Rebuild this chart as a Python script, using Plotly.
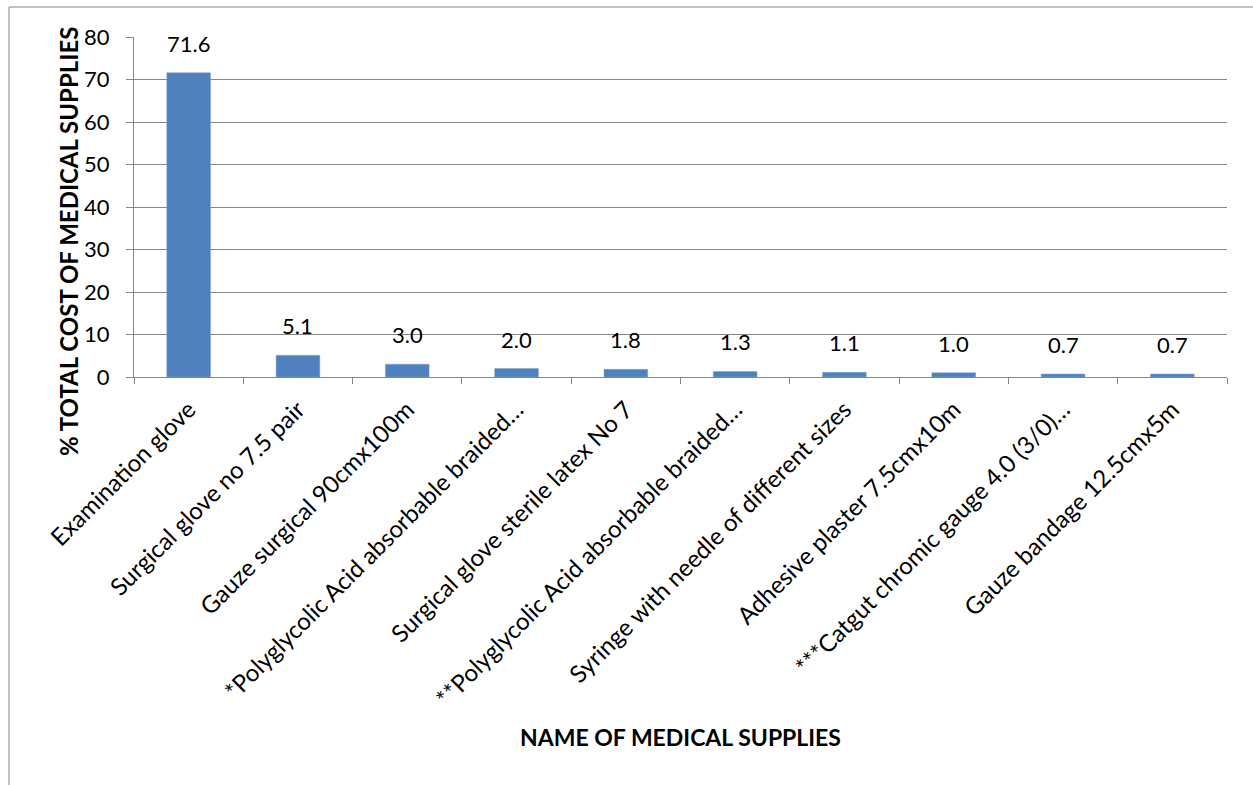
import plotly.graph_objects as go

# Share of total medical-supply cost by item
supplies = [
    "Examination glove",
    "Surgical glove no 7.5 pair",
    "Gauze surgical 90cmx100m",
    "*Polyglycolic Acid absorbable braided…",
    "Surgical glove sterile latex No 7",
    "**Polyglycolic Acid absorbable braided…",
    "Syringe with needle of different sizes",
    "Adhesive plaster 7.5cmx10m",
    "***Catgut chromic gauge 4.0 (3/0)…",
    "Gauze bandage 12.5cmx5m",
]
pct_cost = [71.6, 5.1, 3.0, 2.0, 1.8, 1.3, 1.1, 1.0, 0.7, 0.7]
y_ticks = [0, 10, 20, 30, 40, 50, 60, 70, 80]

W, H = 1253, 785
ML, MR, MT, MB = 134, 26, 37, 408
PW, PH = W - ML - MR, H - MT - MB

FONT = "Lato"
GRID = "#868686"

fig = go.Figure(
    go.Bar(
        x=supplies,
        y=pct_cost,
        width=0.4,
        marker=dict(color="#4F81BD", line=dict(color="#7FA3D0", width=0.5)),
        hoverinfo="x+y",
    )
)

# Value labels above each bar
for name, val in zip(supplies, pct_cost):
    fig.add_annotation(
        x=name, y=val, xref="x", yref="y",
        text=f"{val:.1f}", showarrow=False,
        yanchor="bottom", yshift=14,
        font=dict(family=FONT, size=22, color="#000000"),
    )

fig.update_layout(
    width=W,
    height=H,
    margin=dict(l=ML, r=MR, t=MT, b=MB, autoexpand=False),
    paper_bgcolor="white",
    plot_bgcolor="white",
    showlegend=False,
    font=dict(family=FONT, size=22, color="#000000"),
    xaxis=dict(
        type="category",
        tickangle=-45,
        tickson="boundaries",
        ticks="outside",
        ticklen=6,
        tickcolor=GRID,
        showline=True,
        linecolor=GRID,
        linewidth=1,
        showgrid=False,
        ticklabelstandoff=8,
        tickfont=dict(family=FONT, size=24),
        automargin=False,
    ),
    yaxis=dict(
        range=[0, 80],
        tickvals=y_ticks,
        ticks="outside",
        ticklen=7,
        tickcolor=GRID,
        showline=True,
        linecolor=GRID,
        linewidth=1,
        showgrid=True,
        gridcolor=GRID,
        gridwidth=1,
        zeroline=False,
        ticklabelstandoff=12,
        tickfont=dict(family=FONT, size=22),
        automargin=False,
    ),
)

# Axis titles
fig.add_annotation(
    xref="paper", yref="paper",
    x=(680 - ML) / PW, y=1 - (737 - MT) / PH,
    text="<b>NAME OF MEDICAL SUPPLIES</b>", showarrow=False,
    xanchor="center", yanchor="middle",
    font=dict(family=FONT, size=23, color="#000000"),
)
fig.add_annotation(
    xref="paper", yref="paper",
    x=(68 - ML) / PW, y=1 - (242 - MT) / PH,
    text="<b>% TOTAL COST OF MEDICAL SUPPLIES</b>", showarrow=False,
    textangle=-90, xanchor="center", yanchor="middle",
    font=dict(family=FONT, size=24, color="#000000"),
)

# Chart frame (top and left edges)
x_left = (9 - ML) / PW
y_top = 1 + (MT - 7) / PH
fig.add_shape(type="line", xref="paper", yref="paper",
              x0=x_left, x1=(W - ML) / PW, y0=y_top, y1=y_top,
              line=dict(color=GRID, width=1))
fig.add_shape(type="line", xref="paper", yref="paper",
              x0=x_left, x1=x_left, y0=y_top, y1=-(H - MT - PH) / PH,
              line=dict(color=GRID, width=1))

fig.write_html("out.html")
